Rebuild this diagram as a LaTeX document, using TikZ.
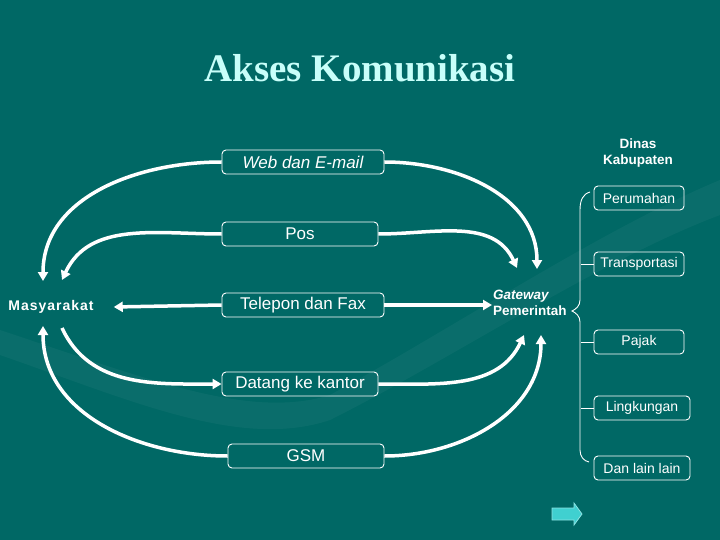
\documentclass[tikz,border=0pt]{standalone}
\usepackage{fontspec}
\setmainfont{Liberation Sans}
\newfontfamily\titlefont{Liberation Serif}
\usetikzlibrary{arrows.meta}
\definecolor{bgteal}{RGB}{0,104,101}
\definecolor{titlecyan}{RGB}{200,255,250}
\definecolor{arrowcyan}{RGB}{64,208,208}
\tikzset{
  box/.style={draw=white, line width=0.9pt, rounded corners=4pt, minimum height=24pt, inner sep=0pt, text=white},
  bigbox/.style={box, font=\fontsize{17}{20}\selectfont},
  smallbox/.style={box, minimum width=90pt, font=\fontsize{14}{16}\selectfont},
  conn/.style={draw=white, line width=3.5pt, -{Triangle[length=9pt,width=10pt]}},
  brace/.style={draw=white, line width=0.9pt},
  lbl/.style={text=white, inner sep=1pt, font=\fontsize{13.5}{16}\selectfont\bfseries}
}
\begin{document}
\begin{tikzpicture}[x=1pt,y=-1pt]
\fill[bgteal] (0,0) rectangle (720,540);
\useasboundingbox (0,0) rectangle (720,540);
% faint background swoosh
\fill[white, opacity=0.04] (0,330) .. controls (150,380) and (250,420) .. (330,395) .. controls (450,330) and (600,230) .. (720,180) -- (720,215) .. controls (600,260) and (450,360) .. (330,420) .. controls (240,450) and (130,400) .. (0,355) -- cycle;

% title
\node[text=titlecyan, font=\titlefont\bfseries\fontsize{39}{44}\selectfont, inner sep=0pt] (title) at (360,68) {Akses Komunikasi};

% left and centre nodes
\node[lbl, font=\fontsize{14}{16}\selectfont\bfseries\addfontfeature{LetterSpace=7}] (masy) at (51,307) {Masyarakat};
\node[lbl, align=left, anchor=west] (gate) at (492,303) {\textit{Gateway}\\Pemerintah};
\node[lbl, align=center] (dinas) at (638,153) {Dinas\\Kabupaten};

\node[bigbox, minimum width=162pt, font=\fontsize{17}{20}\selectfont\itshape] (web) at (303,162) {Web dan E-mail};
\node[bigbox, minimum width=156pt] (pos) at (300,234) {Pos};
\node[bigbox, minimum width=162pt] (tel) at (303,305) {Telepon dan Fax};
\node[bigbox, minimum width=156pt] (dat) at (300,384) {Datang ke kantor};
\node[bigbox, minimum width=156pt] (gsm) at (306,456) {GSM};

% right boxes
\node[smallbox] (per) at (639,198) {Perumahan};
\node[smallbox] (tra) at (639,264) {Transportasi};
\node[smallbox] (paj) at (639,342) {Pajak};
\node[smallbox, minimum width=96pt] (lin) at (642,408) {Lingkungan};
\node[smallbox, minimum width=96pt] (dll) at (642,468) {Dan lain lain};

% arrow end points
\coordinate (mA) at (43,281);
\coordinate (mB) at (62,280);
\coordinate (mC) at (43,326);
\coordinate (mD) at (62,328);
\coordinate (gA) at (537,269);
\coordinate (gB) at (517,268);
\coordinate (gC) at (524,335);
\coordinate (gD) at (541,335);

% connectors
\draw[conn] (web.west) to[out=180,in=90] (mA);
\draw[conn] (web.east) to[out=0,in=90] (gA);
\draw[conn] (pos.west) to[out=180,in=65] (mB);
\draw[conn] (pos.east) to[out=0,in=115] (gB);
\draw[conn] (tel.west) -- ([xshift=19pt]masy.east);
\draw[conn] (tel.east) -- (gate.west |- tel.east);
\draw[conn] (mD) to[out=-65,in=180] (dat.west);
\draw[conn] (dat.east) to[out=0,in=-115] (gC);
\draw[conn] (gsm.west) to[out=180,in=-90] (mC);
\draw[conn] (gsm.east) to[out=0,in=-90] (gD);

% brace
\draw[brace] (590,192) .. controls (583,194) and (580,200) .. (580,210) -- (580,300)
  .. controls (580,306) and (576,309) .. (572,311)
  .. controls (576,313) and (580,316) .. (580,322) -- (580,450)
  .. controls (580,457) and (584,461) .. (589,462);
\draw[brace] (tra.west) -- ++(-13,0);
\draw[brace] (paj.west) -- ++(-13,0);
\draw[brace] (lin.west) -- ++(-13,0);

% small navigation arrow
\filldraw[fill=arrowcyan, draw=arrowcyan!60!white, line width=0.8pt]
  (552,508) -- (574,508) -- (574,503) -- (582,514) -- (574,525) -- (574,520) -- (552,520) -- cycle;
\end{tikzpicture}
\end{document}
